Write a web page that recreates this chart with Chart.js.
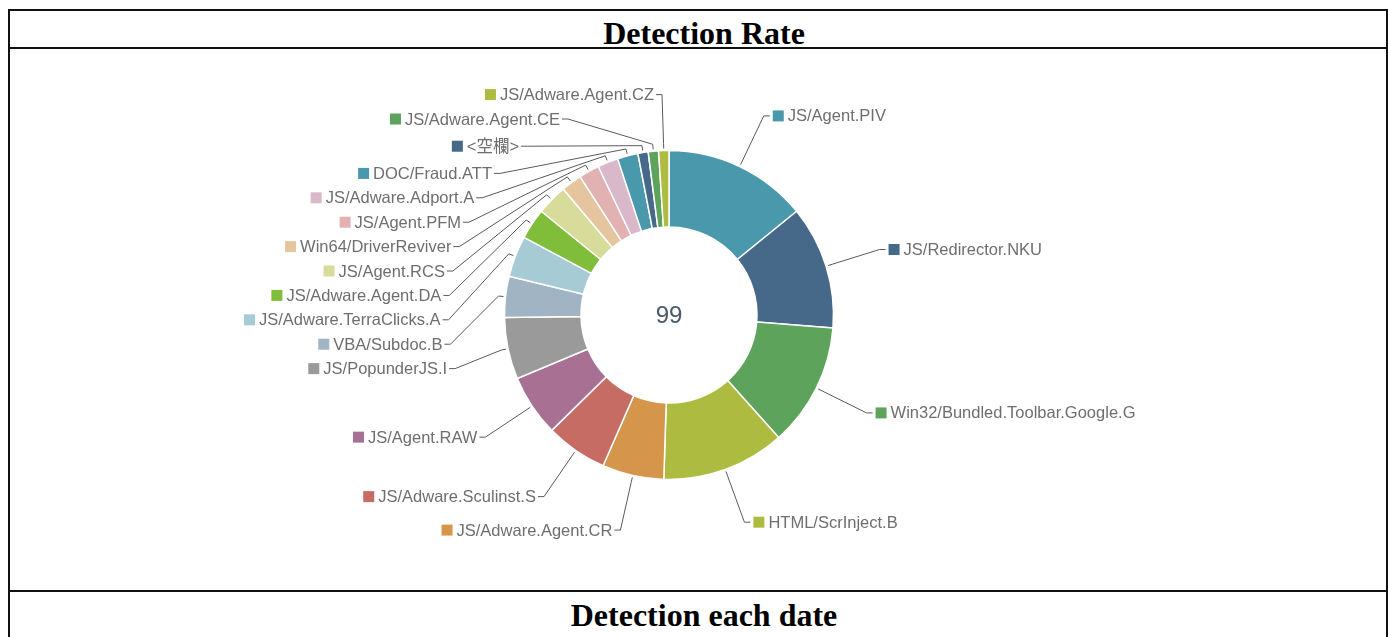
<!DOCTYPE html>
<html>
<head>
<meta charset="utf-8">
<title>Detection Rate</title>
<script src="https://cdn.jsdelivr.net/npm/chart.js@4"></script>
<style>
  body { margin: 0; background: #fff; }
  .frame { position: absolute; left: 8px; top: 9px; width: 1376px; height: 640px; border: 2px solid #111; border-bottom: none; }
  .hline { position: absolute; left: 8px; width: 1380px; height: 2px; background: #111; }
  .title { position: absolute; left: 8px; width: 1392px; text-align: center; font: bold 32px "Liberation Serif", "Times New Roman", serif; line-height: 36px; color: #000; }
  #wrap { position: absolute; left: 11px; top: 50px; width: 1316px; height: 530px; }
</style>
</head>
<body>
<div class="frame"></div>
<div class="hline" style="top:47px"></div>
<div class="hline" style="top:590px"></div>
<div class="title" style="top:15px">Detection Rate</div>
<div class="title" style="top:597px">Detection each date</div>
<div id="wrap"><canvas id="rateChart" width="1316" height="530"></canvas></div>

<script>
// detection names, clockwise from 12 o'clock
const labels = [
  "JS/Agent.PIV",
  "JS/Redirector.NKU",
  "Win32/Bundled.Toolbar.Google.G",
  "HTML/ScrInject.B",
  "JS/Adware.Agent.CR",
  "JS/Adware.Sculinst.S",
  "JS/Agent.RAW",
  "JS/PopunderJS.I",
  "VBA/Subdoc.B",
  "JS/Adware.TerraClicks.A",
  "JS/Adware.Agent.DA",
  "JS/Agent.RCS",
  "Win64/DriverReviver",
  "JS/Agent.PFM",
  "JS/Adware.Adport.A",
  "DOC/Fraud.ATT",
  "<空欄>",
  "JS/Adware.Agent.CE",
  "JS/Adware.Agent.CZ"
];
const counts = [14, 12, 12, 12, 6, 6, 6, 6, 4, 4, 3, 3, 2, 2, 2, 2, 1, 1, 1];

// palette repeats after 15 colours
const palette = [
  "#4a98ac", "#466889", "#5da35b", "#aebb41", "#d5964c",
  "#c66c65", "#a87092", "#9a9a9a", "#a1b4c4", "#a7cbd5",
  "#80bd3a", "#d7dc9b", "#e5c59e", "#e2b2b3", "#d8b8c9"
];

const labelFont = '16.5px "Liberation Sans", Arial, "Noto Sans CJK JP", sans-serif';

// outside labels with leader lines, stacked like echarts pie labels
const outerLabels = {
  id: "outerLabels",
  afterDatasetsDraw(chart) {
    const ctx = chart.ctx;
    const arcs = chart.getDatasetMeta(0).data;
    if (!arcs.length) return;
    const cx = arcs[0].x, cy = arcs[0].y, R = arcs[0].outerRadius;
    const rA = R + 56, len2 = 6;

    const items = arcs.map((arc, i) => {
      const mid = (arc.startAngle + arc.endAngle) / 2;
      const ux = Math.cos(mid), uy = Math.sin(mid);
      return {
        i, ux, uy,
        dir: ux < 0 ? -1 : 1,
        x2: cx + rA * ux,
        y: cy + rA * uy,
        h: /[^\x00-\x7f]/.test(labels[i]) ? 30 : 24.4
      };
    });

    [-1, 1].forEach((dir) => {
      const side = items.filter((it) => it.dir === dir).sort((a, b) => a.y - b.y);
      let bottom = -Infinity, moved = false;
      side.forEach((it) => {
        const top = it.y - it.h / 2;
        if (top < bottom) { it.y += bottom - top; moved = true; }
        bottom = it.y + it.h / 2;
      });
      if (!moved) return;
      // put shifted labels on an ellipse through the farthest one
      [side.filter((it) => it.y <= cy), side.filter((it) => it.y > cy)].forEach((list) => {
        if (!list.length) return;
        let far = list[0];
        list.forEach((it) => { if (Math.abs(it.y - cy) >= Math.abs(far.y - cy)) far = it; });
        const fdx = far.x2 - cx, fdy = Math.abs(far.y - cy);
        const rB = Math.abs(fdx) < rA ? fdy / Math.sqrt(1 - (fdx * fdx) / (rA * rA)) : rA;
        list.forEach((it) => {
          const dy = Math.abs(it.y - cy);
          it.x2 = cx + dir * Math.sqrt(Math.max(0, 1 - (dy * dy) / (rB * rB))) * rA;
        });
      });
    });

    ctx.save();
    ctx.strokeStyle = "#5a5a5a";
    ctx.lineWidth = 1;
    ctx.font = labelFont;
    ctx.textBaseline = "middle";
    items.forEach((it) => {
      const x0 = cx + (R + 2) * it.ux, y0 = cy + (R + 2) * it.uy;
      const xt = cx + (R + 7) * it.ux, yt = cy + (R + 7) * it.uy;
      const x3 = it.x2 + it.dir * len2;
      ctx.beginPath();
      ctx.moveTo(x0, y0);
      ctx.lineTo(xt, yt);
      ctx.lineTo(it.x2, it.y);
      ctx.lineTo(x3, it.y);
      ctx.stroke();

      const text = labels[it.i];
      const w = ctx.measureText(text).width;
      let sq, tx;
      if (it.dir > 0) {
        sq = x3 + 3; tx = sq + 15; ctx.textAlign = "left";
      } else {
        tx = x3 - 2; sq = tx - w - 15; ctx.textAlign = "right";
      }
      ctx.fillStyle = palette[it.i % palette.length];
      ctx.fillRect(sq, it.y - 5.5, 11, 11);
      ctx.fillStyle = "#6e6e6e";
      ctx.fillText(text, tx, it.y + 1);
    });

    // total in the middle
    const total = counts.reduce((a, b) => a + b, 0);
    ctx.font = '24px "Liberation Sans", Arial, sans-serif';
    ctx.fillStyle = "#4a5b6c";
    ctx.textAlign = "center";
    ctx.fillText(String(total), cx, cy + 1);
    ctx.restore();
  }
};

new Chart(document.getElementById("rateChart"), {
  type: "doughnut",
  data: {
    labels: labels,
    datasets: [
      {
        data: counts,
        backgroundColor: counts.map((_, i) => palette[i % palette.length]),
        borderColor: "#ffffff",
        borderWidth: 1.5,
        hoverOffset: 0
      }
    ]
  },
  options: {
    responsive: false,
    animation: false,
    radius: 164.5,
    cutout: "53.5%",
    events: [],
    plugins: {
      legend: { display: false },
      tooltip: { enabled: false }
    }
  },
  plugins: [outerLabels]
});
</script>
</body>
</html>
